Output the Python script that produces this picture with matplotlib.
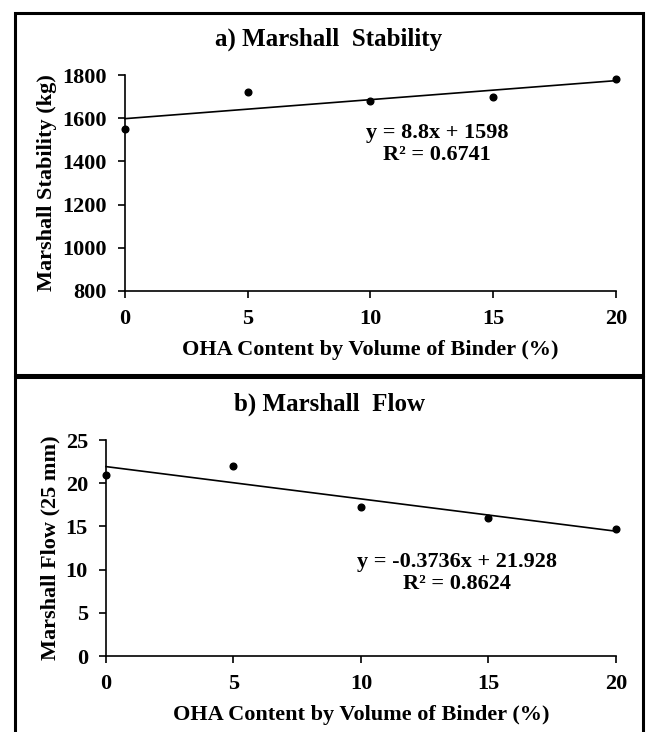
import matplotlib
matplotlib.use("Agg")
import matplotlib.pyplot as plt
import matplotlib.patches as patches
import numpy as np

plt.rcParams['font.family'] = ['Liberation Serif', 'DejaVu Serif']
plt.rcParams['font.weight'] = 'bold'
plt.rcParams['font.size'] = 16

# data
oha = [0, 5, 10, 15, 20]
stability = [1550, 1720, 1680, 1700, 1780]
flow = [21.0, 22.0, 17.3, 16.0, 14.65]

stab_eq = "y = 8.8x + 1598\nR² = 0.6741"
flow_eq = "y = -0.3736x + 21.928\nR² = 0.8624"
xlab = "OHA Content by Volume of Binder (%)"


def style_axis(ax):
    ax.spines['top'].set_visible(False)
    ax.spines['right'].set_visible(False)
    ax.spines['left'].set_linewidth(1.2)
    ax.spines['bottom'].set_linewidth(1.2)
    ax.tick_params(direction='out', length=5, width=1.2, pad=8)
    for lab in ax.get_xticklabels() + ax.get_yticklabels():
        lab.set_fontweight('bold')


def trend(ax, x, y):
    m, b = np.polyfit(x, y, 1)
    xs = np.array([min(x), max(x)])
    ax.plot(xs, m * xs + b, color='black', lw=1.2, clip_on=False)
    ax.plot(x, y, 'o', color='black', ms=4.8, clip_on=False, zorder=3)


fig = plt.figure(figsize=(6.49, 7.32), dpi=100)

# Marshall stability
ax1 = fig.add_axes([0.1926, 0.6025, 0.7564, 0.295])
trend(ax1, oha, stability)
ax1.set_xlim(0, 20)
ax1.set_ylim(800, 1800)
ax1.set_xticks([0, 5, 10, 15, 20])
ax1.set_yticks([800, 1000, 1200, 1400, 1600, 1800])
style_axis(ax1)
ax1.set_xlabel(xlab, fontweight='bold', labelpad=8)
ax1.set_ylabel("Marshall Stability (kg)", fontweight='bold', labelpad=4)
ax1.text(0.636, 0.68, stab_eq, transform=ax1.transAxes, ha='center',
         va='center', fontweight='bold', linespacing=1.15)
fig.text(0.507, 0.946, "a) Marshall  Stability", ha='center', va='center',
         fontsize=18, fontweight='bold')

# Marshall flow
ax2 = fig.add_axes([0.1633, 0.1038, 0.7857, 0.295])
trend(ax2, oha, flow)
ax2.set_xlim(0, 20)
ax2.set_ylim(0, 25)
ax2.set_xticks([0, 5, 10, 15, 20])
ax2.set_yticks([0, 5, 10, 15, 20, 25])
style_axis(ax2)
ax2.set_xlabel(xlab, fontweight='bold', labelpad=8)
ax2.set_ylabel("Marshall Flow (25 mm)", fontweight='bold', labelpad=4)
ax2.text(13.76, 9.6, flow_eq, ha='center', va='center',
         fontweight='bold', linespacing=1.15)
fig.text(0.507, 0.448, "b) Marshall  Flow", ha='center', va='center',
         fontsize=18, fontweight='bold')

# panel frames
fig.patches.append(patches.Rectangle((15 / 649, 1 - 375 / 732), 628 / 649, 362 / 732,
                                     transform=fig.transFigure, fill=False,
                                     lw=2.2, ec='black'))
fig.patches.append(patches.Rectangle((15 / 649, -0.01), 628 / 649, 1 - 377 / 732 + 0.01,
                                     transform=fig.transFigure, fill=False,
                                     lw=2.2, ec='black'))

fig.savefig("out.png", dpi=100)
